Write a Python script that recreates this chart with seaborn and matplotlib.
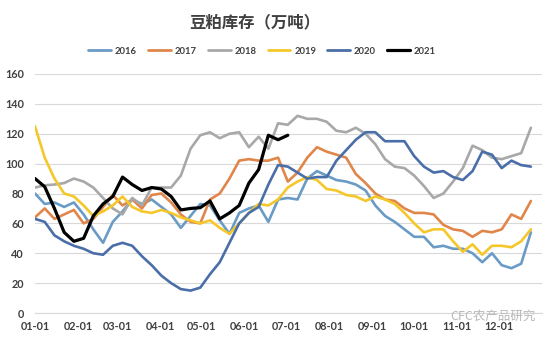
import numpy as np
import pandas as pd
import matplotlib
matplotlib.use("Agg")
import matplotlib.pyplot as plt
from matplotlib.lines import Line2D
import seaborn as sns

# ---------------- data ----------------
years = ["2016", "2017", "2018", "2019", "2020", "2021"]
month_labels = ["01-01", "02-01", "03-01", "04-01", "05-01", "06-01",
                "07-01", "08-01", "09-01", "10-01", "11-01", "12-01"]
month_days = [0, 31, 59, 90, 120, 151, 181, 212, 243, 273, 304, 334]

y2016 = [80, 73, 74, 71, 74, 66, 56, 47, 61, 68,
         76, 73, 76, 71, 66, 57, 65, 73, 72, 62,
         53, 67, 70, 72, 61, 76, 77, 76, 90, 95,
         92, 89, 88, 86, 82, 72, 65, 61, 56, 51,
         51, 44, 45, 43, 43, 40, 34, 40, 32, 30,
         33, 54]
y2017 = [64, 70, 63, 66, 69, 60, 63, 71, 79, 72,
         76, 70, 79, 80, 74, 66, 61, 60, 76, 80,
         90, 102, 103, 102, 102, 104, 88, 94, 104, 111,
         108, 106, 104, 93, 87, 80, 76, 75, 70, 67,
         67, 66, 59, 56, 55, 51, 55, 54, 56, 66,
         63, 75]
y2018 = [84, 85.5, 86, 87, 90, 88, 84, 77, 70, 66,
         77, 72, 84, 84, 84, 92, 110, 119, 121, 117,
         120, 121, 111, 118, 110, 127, 126, 132, 130, 130,
         128, 122, 121, 124, 120, 113, 103, 98, 97, 92,
         85, 77, 80, 88, 97, 112, 109, 104, 103, 105,
         107, 124]
y2019 = [125, 104, 90, 80, 78, 72, 65, 68, 72, 78,
         71, 68, 67, 69, 67, 64, 62, 60, 62, 57,
         53, 60, 67, 73, 72, 76, 84, 88, 91, 89,
         83, 82, 79, 78, 75, 78, 76, 73, 67, 60,
         54, 56, 56, 48, 41, 46, 39, 45, 45, 44,
         48, 56]
y2020 = [63, 61, 52, 48, 45, 43, 40, 39, 45, 47,
         45, 38, 32, 25, 20, 16, 15, 17, 26, 34,
         47, 60, 67, 71, 86, 99, 98, 94, 90, 91,
         91, 102, 109, 116, 121, 121, 115, 115, 115, 105,
         98, 94, 95, 91, 89, 95, 108, 106, 97, 102,
         99, 98]
y2021 = [90, 84.5, 70, 54, 48, 50, 65, 73, 78, 91,
         86, 82, 84, 83, 78, 69, 70, 70.5, 75, 63,
         67, 72, 87, 96, 119, 116, 119]

series = dict(zip(years, [y2016, y2017, y2018, y2019, y2020, y2021]))
colors = ["#6A9BC6", "#E0864B", "#A8A8A8", "#F5C72A", "#4A6EA8", "#000000"]
palette = dict(zip(years, colors))

rows = []
for yr, vals in series.items():
    for i, v in enumerate(vals):
        rows.append({"year": yr, "day": i * 7, "value": v})
df = pd.DataFrame(rows)

# ---------------- plot ----------------
sns.set_theme(style="white")
plt.rcParams["font.family"] = ["Lato", "Noto Sans CJK SC", "DejaVu Sans"]

W, H = 556, 341
fig = plt.figure(figsize=(W / 100, H / 100), dpi=100)
ax = fig.add_axes([35 / W, 1 - 313 / H, 507 / W, 239 / H])

sns.lineplot(data=df, x="day", y="value", hue="year", hue_order=years,
             palette=palette, ax=ax, linewidth=1.9, legend=False,
             estimator=None, sort=False)
for ln in ax.lines:
    ln.set_solid_joinstyle("round")
ax.lines[-1].set_linewidth(2.3)

ax.set_xlim(0, 365)
ax.set_ylim(0, 160)
ax.set_yticks(range(0, 161, 20))
ax.set_xticks(month_days)
ax.set_xticklabels(month_labels)
ax.set_xlabel("")
ax.set_ylabel("")
ax.grid(axis="y", color="#d9d9d9", linewidth=0.8)
ax.grid(axis="x", visible=False)
ax.set_axisbelow(True)
for s in ["top", "right", "left"]:
    ax.spines[s].set_visible(False)
ax.spines["bottom"].set_color("#d9d9d9")
ax.spines["bottom"].set_linewidth(0.8)
ax.tick_params(axis="both", length=0, labelsize=7.8, colors="#404040")
ax.tick_params(axis="y", pad=8)
ax.tick_params(axis="x", pad=6)
for lab in ax.get_xticklabels() + ax.get_yticklabels():
    lab.set_fontweight("bold")

fig.text(255 / W, 1 - 22 / H, "豆粕库存（万吨）", ha="center", va="center",
         fontsize=11.8, fontweight="bold", color="#404040",
         family=["Noto Sans CJK SC", "DejaVu Sans"])

handles = [Line2D([0], [0], color=palette[y], lw=2.3 if y == "2021" else 2.0) for y in years]
leg = fig.legend(handles, years, loc="center", bbox_to_anchor=(262 / W, 1 - 51 / H),
                 ncol=6, frameon=False, handlelength=2.4, handletextpad=0.4,
                 columnspacing=1.2, prop={"size": 6.8, "weight": "bold"})
for t in leg.get_texts():
    t.set_color("#404040")

fig.text(493 / W, 1 - 316 / H, "CFC农产品研究", ha="center", va="center",
         fontsize=9, color="#b8b8b8", family=["Noto Sans CJK SC", "DejaVu Sans"])

fig.savefig("out.png", dpi=100)
